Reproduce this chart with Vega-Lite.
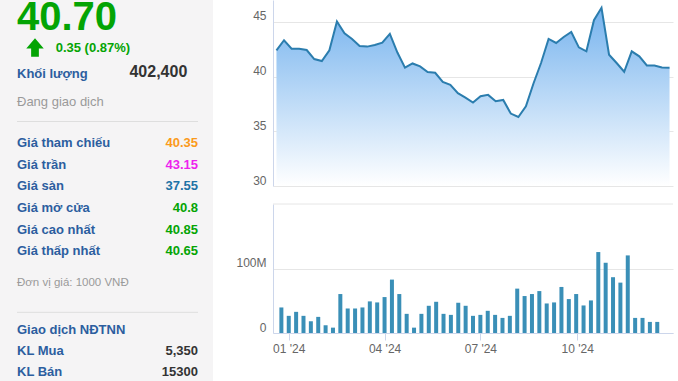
{
  "$schema": "https://vega.github.io/schema/vega-lite/v6.json",
  "padding": 0,
  "background": "white",
  "config": {
    "view": {"stroke": null},
    "font": "Liberation Sans",
    "axis": {"labelFont": "Liberation Sans", "labelColor": "#666666", "labelFontSize": 12, "title": null}
  },
  "datasets": {
    "panel": [
      {"line": 0, "kind": "price", "label": null, "value": "40.70", "status": "up"},
      {"line": 1, "kind": "change", "label": null, "value": "0.35 (0.87%)", "status": "up"},
      {"line": 2, "kind": "volume", "label": "Khối lượng", "value": "402,400", "status": "plain"},
      {"line": 3, "kind": "state", "label": "Đang giao dịch", "value": null, "status": "plain"},
      {"line": 4, "kind": "sep", "label": null, "value": null, "status": "plain"},
      {"line": 5, "kind": "row", "label": "Giá tham chiếu", "value": "40.35", "status": "ref"},
      {"line": 6, "kind": "row", "label": "Giá trần", "value": "43.15", "status": "ceiling"},
      {"line": 7, "kind": "row", "label": "Giá sàn", "value": "37.55", "status": "floor"},
      {"line": 8, "kind": "row", "label": "Giá mở cửa", "value": "40.8", "status": "up"},
      {"line": 9, "kind": "row", "label": "Giá cao nhất", "value": "40.85", "status": "up"},
      {"line": 10, "kind": "row", "label": "Giá thấp nhất", "value": "40.65", "status": "up"},
      {"line": 11, "kind": "note", "label": "Đơn vị giá: 1000 VNĐ", "value": null, "status": "plain"},
      {"line": 12, "kind": "sep", "label": null, "value": null, "status": "plain"},
      {"line": 13, "kind": "heading", "label": "Giao dịch NĐTNN", "value": null, "status": "plain"},
      {"line": 14, "kind": "row", "label": "KL Mua", "value": "5,350", "status": "plain"},
      {"line": 15, "kind": "row", "label": "KL Bán", "value": "15300", "status": "plain"}
    ],
    "prices": [
      {"date": "2023-12-25", "close": 42.40},
      {"date": "2024-01-01", "close": 43.32},
      {"date": "2024-01-08", "close": 42.55},
      {"date": "2024-01-15", "close": 42.55},
      {"date": "2024-01-22", "close": 42.43},
      {"date": "2024-01-29", "close": 41.60},
      {"date": "2024-02-05", "close": 41.42},
      {"date": "2024-02-12", "close": 42.40},
      {"date": "2024-02-19", "close": 45.03},
      {"date": "2024-02-26", "close": 43.96},
      {"date": "2024-03-04", "close": 43.44},
      {"date": "2024-03-11", "close": 42.80},
      {"date": "2024-03-18", "close": 42.74},
      {"date": "2024-03-25", "close": 42.89},
      {"date": "2024-04-01", "close": 43.10},
      {"date": "2024-04-08", "close": 43.90},
      {"date": "2024-04-15", "close": 42.20},
      {"date": "2024-04-22", "close": 40.81},
      {"date": "2024-04-29", "close": 41.20},
      {"date": "2024-05-06", "close": 40.93},
      {"date": "2024-05-13", "close": 40.41},
      {"date": "2024-05-20", "close": 40.35},
      {"date": "2024-05-27", "close": 39.52},
      {"date": "2024-06-03", "close": 39.25},
      {"date": "2024-06-10", "close": 38.48},
      {"date": "2024-06-17", "close": 38.08},
      {"date": "2024-06-24", "close": 37.63},
      {"date": "2024-07-01", "close": 38.21},
      {"date": "2024-07-08", "close": 38.33},
      {"date": "2024-07-15", "close": 37.75},
      {"date": "2024-07-22", "close": 37.87},
      {"date": "2024-07-29", "close": 36.62},
      {"date": "2024-08-05", "close": 36.31},
      {"date": "2024-08-12", "close": 37.29},
      {"date": "2024-08-19", "close": 39.37},
      {"date": "2024-08-26", "close": 41.24},
      {"date": "2024-09-02", "close": 43.44},
      {"date": "2024-09-09", "close": 43.07},
      {"date": "2024-09-16", "close": 43.62},
      {"date": "2024-09-23", "close": 44.08},
      {"date": "2024-09-30", "close": 42.67},
      {"date": "2024-10-07", "close": 42.31},
      {"date": "2024-10-14", "close": 45.15},
      {"date": "2024-10-21", "close": 46.29},
      {"date": "2024-10-28", "close": 42.00},
      {"date": "2024-11-04", "close": 41.24},
      {"date": "2024-11-11", "close": 40.44},
      {"date": "2024-11-18", "close": 42.31},
      {"date": "2024-11-25", "close": 41.85},
      {"date": "2024-12-02", "close": 41.02},
      {"date": "2024-12-09", "close": 41.02},
      {"date": "2024-12-16", "close": 40.84},
      {"date": "2024-12-23", "close": 40.80}
    ],
    "volumes": [
      {"date": "2023-12-25", "volume": 39600000},
      {"date": "2024-01-01", "volume": 26600000},
      {"date": "2024-01-08", "volume": 32800000},
      {"date": "2024-01-15", "volume": 26600000},
      {"date": "2024-01-22", "volume": 18200000},
      {"date": "2024-01-29", "volume": 25000000},
      {"date": "2024-02-05", "volume": 12000000},
      {"date": "2024-02-12", "volume": 8300000},
      {"date": "2024-02-19", "volume": 60400000},
      {"date": "2024-02-26", "volume": 38000000},
      {"date": "2024-03-04", "volume": 38000000},
      {"date": "2024-03-11", "volume": 39600000},
      {"date": "2024-03-18", "volume": 49000000},
      {"date": "2024-03-25", "volume": 47400000},
      {"date": "2024-04-01", "volume": 55700000},
      {"date": "2024-04-08", "volume": 82800000},
      {"date": "2024-04-15", "volume": 60400000},
      {"date": "2024-04-22", "volume": 29700000},
      {"date": "2024-04-29", "volume": 8300000},
      {"date": "2024-05-06", "volume": 29700000},
      {"date": "2024-05-13", "volume": 42200000},
      {"date": "2024-05-20", "volume": 48400000},
      {"date": "2024-05-27", "volume": 29700000},
      {"date": "2024-06-03", "volume": 28100000},
      {"date": "2024-06-10", "volume": 46900000},
      {"date": "2024-06-17", "volume": 42200000},
      {"date": "2024-06-24", "volume": 26600000},
      {"date": "2024-07-01", "volume": 28100000},
      {"date": "2024-07-08", "volume": 34400000},
      {"date": "2024-07-15", "volume": 28100000},
      {"date": "2024-07-22", "volume": 23400000},
      {"date": "2024-07-29", "volume": 26600000},
      {"date": "2024-08-05", "volume": 68800000},
      {"date": "2024-08-12", "volume": 57300000},
      {"date": "2024-08-19", "volume": 60400000},
      {"date": "2024-08-26", "volume": 65000000},
      {"date": "2024-09-02", "volume": 45800000},
      {"date": "2024-09-09", "volume": 47400000},
      {"date": "2024-09-16", "volume": 71400000},
      {"date": "2024-09-23", "volume": 52600000},
      {"date": "2024-09-30", "volume": 60400000},
      {"date": "2024-10-07", "volume": 42700000},
      {"date": "2024-10-14", "volume": 50500000},
      {"date": "2024-10-21", "volume": 125500000},
      {"date": "2024-10-28", "volume": 108900000},
      {"date": "2024-11-04", "volume": 86500000},
      {"date": "2024-11-11", "volume": 78100000},
      {"date": "2024-11-18", "volume": 120300000},
      {"date": "2024-11-25", "volume": 23400000},
      {"date": "2024-12-02", "volume": 23400000},
      {"date": "2024-12-09", "volume": 17200000},
      {"date": "2024-12-16", "volume": 17200000}
    ]
  },
  "spacing": 20,
  "hconcat": [
    {
      "width": 213,
      "height": 381,
      "view": {"fill": "#f5f4f5", "stroke": null},
      "data": {"name": "panel"},
      "encoding": {
        "y": {
          "field": "line",
          "type": "quantitative",
          "axis": null,
          "scale": {
            "domain": [0, 1, 2, 3, 4, 5, 6, 7, 8, 9, 10, 11, 12, 13, 14, 15],
            "range": [29.5, 47.5, 74, 101.5, 121.5, 142.8, 164.5, 186.2, 208, 229.7, 251.3, 283, 312.3, 330, 351.3, 372],
            "nice": false,
            "zero": false
          }
        }
      },
      "layer": [
        {
          "transform": [{"filter": "datum.kind === 'sep'"}],
          "mark": {"type": "rule", "color": "#dedede", "strokeWidth": 1},
          "encoding": {
            "x": {"datum": "label", "type": "nominal", "axis": null, "scale": {"type": "point", "domain": ["label", "value"], "range": [17, 198], "padding": 0}},
            "x2": {"datum": "value"}
          }
        },
        {
          "transform": [{"filter": "datum.kind === 'row' || datum.kind === 'volume' || datum.kind === 'heading'"}],
          "mark": {"type": "text", "align": "left", "baseline": "middle", "fontSize": 13, "fontWeight": "bold", "color": "#2c5e9f"},
          "encoding": {
            "x": {"datum": "label", "type": "nominal", "axis": null, "scale": {"type": "point", "domain": ["label", "value"], "range": [17, 198], "padding": 0}},
            "text": {"field": "label"}
          }
        },
        {
          "transform": [{"filter": "datum.kind === 'state'"}],
          "mark": {"type": "text", "align": "left", "baseline": "middle", "fontSize": 13, "color": "#9a9a9a"},
          "encoding": {
            "x": {"datum": "label", "type": "nominal", "axis": null, "scale": {"type": "point", "domain": ["label", "value"], "range": [17, 198], "padding": 0}},
            "text": {"field": "label"}
          }
        },
        {
          "transform": [{"filter": "datum.kind === 'note'"}],
          "mark": {"type": "text", "align": "left", "baseline": "middle", "fontSize": 11.5, "color": "#9a9a9a"},
          "encoding": {
            "x": {"datum": "label", "type": "nominal", "axis": null, "scale": {"type": "point", "domain": ["label", "value"], "range": [17, 198], "padding": 0}},
            "text": {"field": "label"}
          }
        },
        {
          "transform": [{"filter": "datum.kind === 'row'"}],
          "mark": {"type": "text", "align": "right", "baseline": "middle", "fontSize": 13, "fontWeight": "bold"},
          "encoding": {
            "x": {"datum": "value", "type": "nominal", "axis": null, "scale": {"type": "point", "domain": ["label", "value"], "range": [17, 198], "padding": 0}},
            "text": {"field": "value"},
            "color": {"field": "status", "type": "nominal", "legend": null, "scale": {"domain": ["ref", "ceiling", "floor", "up", "plain"], "range": ["#fb9a1b", "#ee1fee", "#1d72a6", "#04a404", "#333333"]}}
          }
        },
        {
          "transform": [{"filter": "datum.kind === 'volume'"}],
          "mark": {"type": "text", "align": "right", "baseline": "middle", "fontSize": 16, "fontWeight": "bold", "xOffset": -10.7, "dy": -2},
          "encoding": {
            "x": {"datum": "value", "type": "nominal", "axis": null, "scale": {"type": "point", "domain": ["label", "value"], "range": [17, 198], "padding": 0}},
            "text": {"field": "value"},
            "color": {"field": "status", "type": "nominal", "legend": null, "scale": {"domain": ["ref", "ceiling", "floor", "up", "plain"], "range": ["#fb9a1b", "#ee1fee", "#1d72a6", "#04a404", "#333333"]}}
          }
        },
        {
          "transform": [{"filter": "datum.kind === 'price'"}],
          "mark": {"type": "text", "align": "left", "baseline": "alphabetic", "fontSize": 40, "fontWeight": "bold", "clip": true},
          "encoding": {
            "x": {"datum": "label", "type": "nominal", "axis": null, "scale": {"type": "point", "domain": ["label", "value"], "range": [17, 198], "padding": 0}},
            "text": {"field": "value"},
            "color": {"field": "status", "type": "nominal", "legend": null, "scale": {"domain": ["ref", "ceiling", "floor", "up", "plain"], "range": ["#fb9a1b", "#ee1fee", "#1d72a6", "#04a404", "#333333"]}}
          }
        },
        {
          "transform": [{"filter": "datum.kind === 'change'"}],
          "mark": {"type": "point", "filled": true, "opacity": 1, "size": 339, "xOffset": 18, "shape": "M0,-1L0.95,0.1L0.42,0.1L0.42,1L-0.42,1L-0.42,0.1L-0.95,0.1Z"},
          "encoding": {
            "x": {"datum": "label", "type": "nominal", "axis": null, "scale": {"type": "point", "domain": ["label", "value"], "range": [17, 198], "padding": 0}},
            "color": {"field": "status", "type": "nominal", "legend": null, "scale": {"domain": ["ref", "ceiling", "floor", "up", "plain"], "range": ["#fb9a1b", "#ee1fee", "#1d72a6", "#04a404", "#333333"]}}
          }
        },
        {
          "transform": [{"filter": "datum.kind === 'change'"}],
          "mark": {"type": "text", "align": "left", "baseline": "middle", "fontSize": 13, "fontWeight": "bold", "xOffset": 38.7},
          "encoding": {
            "x": {"datum": "label", "type": "nominal", "axis": null, "scale": {"type": "point", "domain": ["label", "value"], "range": [17, 198], "padding": 0}},
            "text": {"field": "value"},
            "color": {"field": "status", "type": "nominal", "legend": null, "scale": {"domain": ["ref", "ceiling", "floor", "up", "plain"], "range": ["#fb9a1b", "#ee1fee", "#1d72a6", "#04a404", "#333333"]}}
          }
        }
      ]
    },
    {
      "spacing": 17,
      "vconcat": [
        {
          "width": 400,
          "height": 186,
          "view": {"stroke": null},
          "data": {"name": "prices"},
          "encoding": {
            "x": {
              "field": "date",
              "type": "temporal",
              "axis": null,
              "scale": {"type": "utc", "domain": [{"year": 2023, "month": 12, "date": 21, "hours": 19, "utc": true}, {"year": 2024, "month": 12, "date": 26, "hours": 5, "utc": true}]}
            },
            "y": {
              "field": "close",
              "type": "quantitative",
              "scale": {"domain": [30, 47], "nice": false, "zero": false},
              "axis": {"values": [30, 35, 40, 45], "grid": true, "gridColor": "#e6e6e6", "domain": true, "domainColor": "#ccd6eb", "ticks": false, "labelPadding": 7, "labelBaseline": "alphabetic", "labelOffset": -2, "minExtent": 40, "maxExtent": 40}
            }
          },
          "layer": [
            {
              "mark": {
                "type": "area",
                "opacity": 1,
                "color": {"gradient": "linear", "x1": 0, "y1": 0, "x2": 0, "y2": 1, "stops": [{"offset": 0, "color": "#76b3ee"}, {"offset": 1, "color": "#ffffff"}]}
              },
              "encoding": {"y2": {"datum": 30}}
            },
            {
              "mark": {"type": "line", "color": "#2b7dae", "strokeWidth": 2}
            }
          ]
        },
        {
          "width": 400,
          "height": 129,
          "view": {"stroke": null},
          "layer": [
            {
              "data": {"values": [{"top": 200000000}]},
              "mark": {"type": "rule", "color": "#e6e6e6", "strokeWidth": 1},
              "encoding": {"y": {"field": "top", "type": "quantitative"}}
            },
            {
              "data": {"name": "volumes"},
              "mark": {"type": "bar", "width": 4, "color": "#3a8fb7"},
              "encoding": {
                "x": {
                  "field": "date",
                  "type": "temporal",
                  "scale": {"type": "utc", "domain": [{"year": 2023, "month": 12, "date": 21, "hours": 19, "utc": true}, {"year": 2024, "month": 12, "date": 26, "hours": 5, "utc": true}]},
                  "axis": {
                    "values": [{"year": 2024, "month": 1, "date": 1, "utc": true}, {"year": 2024, "month": 4, "date": 1, "utc": true}, {"year": 2024, "month": 7, "date": 1, "utc": true}, {"year": 2024, "month": 10, "date": 1, "utc": true}],
                    "labelExpr": "utcFormat(datum.value, \"%m '%y\")",
                    "grid": false,
                    "domain": true,
                    "domainColor": "#ccd6eb",
                    "ticks": true,
                    "tickColor": "#ccd6eb",
                    "tickSize": 7,
                    "labelPadding": 3
                  }
                },
                "y": {
                  "field": "volume",
                  "type": "quantitative",
                  "scale": {"domain": [0, 200000000], "nice": false},
                  "axis": {"values": [0, 100000000], "labelExpr": "datum.value === 0 ? '0' : format(datum.value, '~s')", "grid": true, "gridColor": "#e6e6e6", "domain": true, "domainColor": "#ccd6eb", "ticks": false, "labelPadding": 7, "labelBaseline": "alphabetic", "labelOffset": -2, "minExtent": 40, "maxExtent": 40}
                }
              }
            }
          ]
        }
      ]
    }
  ]
}
